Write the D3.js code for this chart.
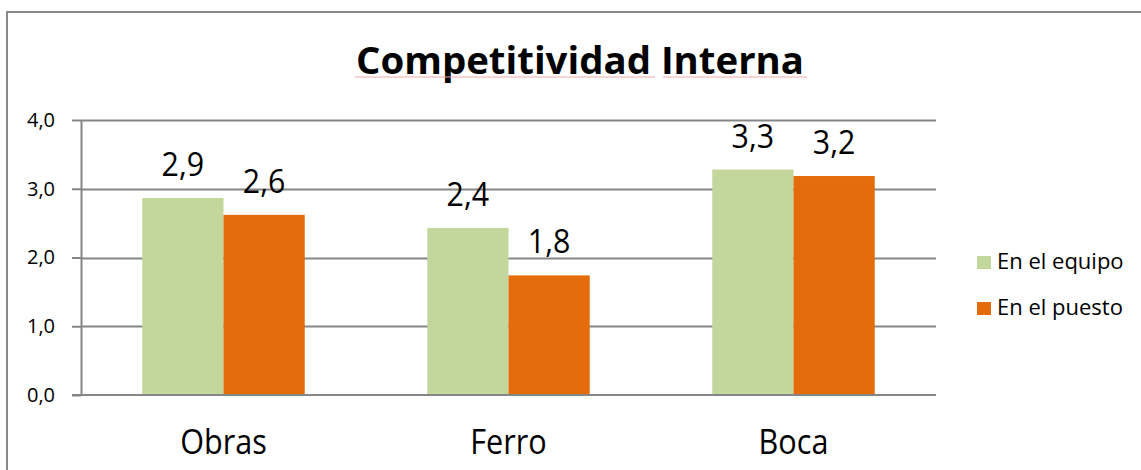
<!DOCTYPE html>
<html>
<head>
<meta charset="utf-8">
<script src="https://d3js.org/d3.v7.min.js"></script>
<style>
  html, body { margin: 0; padding: 0; background: #fff; }
  text { font-family: "Open Sans", "Liberation Sans", sans-serif; }
</style>
</head>
<body>
<div class="chart"></div>
<script>
(function() {

  // chart data
  var categories = ['Obras', 'Ferro', 'Boca'];
  var seriesNames = ['En el equipo', 'En el puesto'];
  var equipo = [2.865, 2.43, 3.28];
  var puesto = [2.62, 1.74, 3.185];
  var labelsEquipo = ['2,9', '2,4', '3,3'];
  var labelsPuesto = ['2,6', '1,8', '3,2'];
  var yTicks = [0, 1, 2, 3, 4];
  var yTickLabels = ['0,0', '1,0', '2,0', '3,0', '4,0'];

  var colors = ['#C3D69B', '#E46C0A'];

  var width = 1141, height = 470;

  var svg = d3.select('.chart')
    .append('svg')
    .attr('width', width)
    .attr('height', height);

  // outer frame (only top and left visible)
  svg.append('path')
    .attr('d', 'M7,' + height + 'V12H' + width)
    .attr('fill', 'none')
    .attr('stroke', '#898989')
    .attr('stroke-width', 2);

  // title
  svg.append('text')
    .attr('x', 580)
    .attr('y', 74)
    .attr('text-anchor', 'middle')
    .attr('font-size', 38)
    .attr('font-weight', 'bold')
    .attr('textLength', 448)
    .attr('lengthAdjust', 'spacingAndGlyphs')
    .text('Competitividad Interna');

  // faint spell-check underline
  svg.selectAll('line.squiggle').data([[355, 655], [663, 807]]).enter()
    .append('line')
    .attr('x1', function(d){ return d[0]; })
    .attr('x2', function(d){ return d[1]; })
    .attr('y1', 77)
    .attr('y2', 77)
    .attr('stroke', '#f4a6a6')
    .attr('stroke-width', 1);

  var left = 81, right = 936, top = 120, bottom = 395;

  var x = d3.scaleBand()
    .domain(categories)
    .range([left, right])
    .paddingInner(0.43)
    .paddingOuter(0.215);

  var x1 = d3.scaleBand()
    .domain([0, 1])
    .range([0, x.bandwidth()]);

  var y = d3.scaleLinear()
    .domain([0, 4])
    .range([bottom, top]);

  // gridlines
  svg.selectAll('line.grid').data(yTicks.slice(1)).enter()
    .append('line')
    .attr('x1', left)
    .attr('x2', right)
    .attr('y1', function(d){ return Math.round(y(d)) + 0.5; })
    .attr('y2', function(d){ return Math.round(y(d)) + 0.5; })
    .attr('stroke', '#868686')
    .attr('stroke-width', 2);

  var groups = svg.selectAll('g.cat').data(categories).enter()
    .append('g')
    .attr('transform', function(d){ return 'translate(' + x(d) + ',0)'; });

  var rows = categories.map(function(c, i) {
    return [
      {s: 0, v: equipo[i], label: labelsEquipo[i]},
      {s: 1, v: puesto[i], label: labelsPuesto[i]}
    ];
  });

  groups.selectAll('rect').data(function(d, i){ return rows[i]; }).enter()
    .append('rect')
    .attr('x', function(d){ return x1(d.s); })
    .attr('y', function(d){ return y(d.v); })
    .attr('width', x1.bandwidth())
    .attr('height', function(d){ return y(0) - y(d.v); })
    .attr('fill', function(d){ return colors[d.s]; });

  // value labels, squeezed a bit to look like Calibri
  groups.selectAll('text').data(function(d, i){ return rows[i]; }).enter()
    .append('text')
    .attr('transform', function(d){
      return 'translate(' + (x1(d.s) + x1.bandwidth() / 2) + ',' + (y(d.v) - 22) + ') scale(0.92,1)';
    })
    .attr('text-anchor', 'middle')
    .attr('font-size', 33)
    .attr('fill', '#000')
    .text(function(d){ return d.label; });

  // y axis
  var yAxis = svg.append('g')
    .attr('transform', 'translate(' + left + ',0)')
    .call(d3.axisLeft(y).tickValues(yTicks)
      .tickFormat(function(d, i){ return yTickLabels[i]; })
      .tickSize(9).tickSizeOuter(0).tickPadding(17));
  yAxis.select('.domain').attr('stroke', '#868686').attr('stroke-width', 2);
  yAxis.selectAll('.tick line').attr('stroke', '#868686').attr('stroke-width', 2);
  yAxis.selectAll('.tick text')
    .attr('font-size', 20)
    .attr('font-family', '"Open Sans", sans-serif')
    .attr('fill', '#000');

  // x axis line
  svg.append('line')
    .attr('x1', left - 9)
    .attr('x2', right)
    .attr('y1', bottom)
    .attr('y2', bottom)
    .attr('stroke', '#868686')
    .attr('stroke-width', 2);

  // category labels
  svg.selectAll('text.cat').data(categories).enter()
    .append('text')
    .attr('transform', function(d){
      return 'translate(' + (x(d) + x.bandwidth() / 2) + ',454) scale(0.9,1)';
    })
    .attr('text-anchor', 'middle')
    .attr('font-size', 34)
    .attr('fill', '#000')
    .text(function(d){ return d; });

  // legend
  var legend = svg.selectAll('g.legend').data(seriesNames).enter()
    .append('g')
    .attr('transform', function(d, i){ return 'translate(977,' + (256 + i * 46) + ')'; });

  legend.append('rect')
    .attr('width', 14)
    .attr('height', 13)
    .attr('fill', function(d, i){ return colors[i]; });

  legend.append('text')
    .attr('x', 20)
    .attr('y', 13)
    .attr('font-size', 22)
    .attr('fill', '#000')
    .text(function(d){ return d; });

})();
</script>
</body>
</html>
